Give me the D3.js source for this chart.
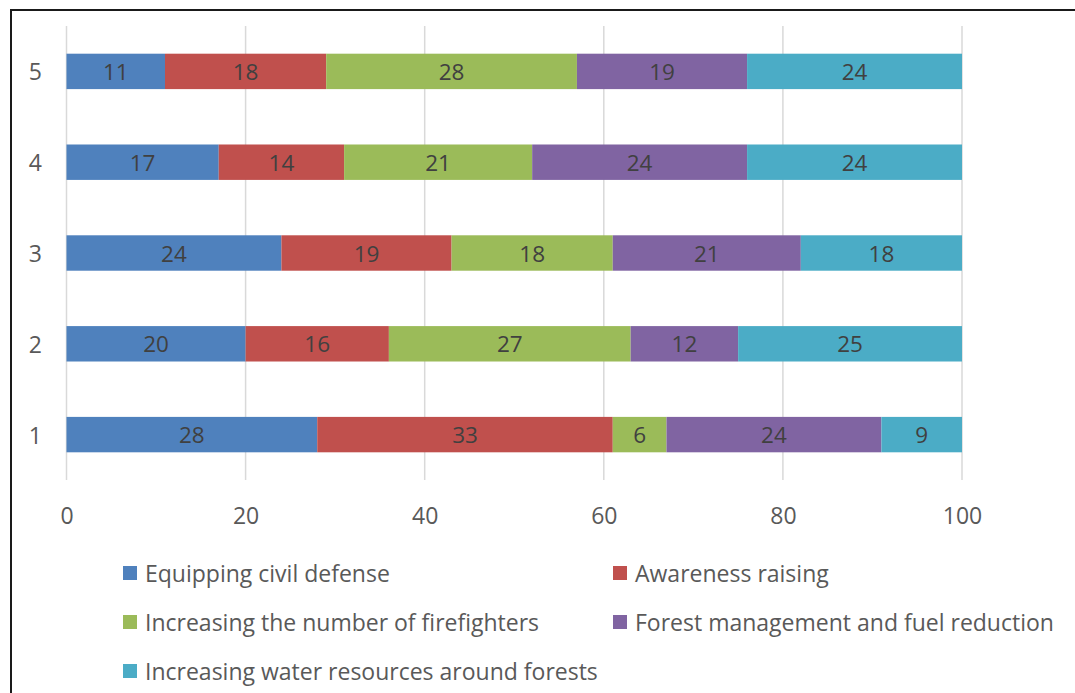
<!DOCTYPE html>
<html><head><meta charset="utf-8">
<script src="https://cdn.jsdelivr.net/npm/d3@7"></script>
<style>
html,body{margin:0;padding:0;background:#fff;}
svg{display:block;}
text{font-family:"Open Sans",sans-serif;}
</style></head>
<body>
<svg id="c" width="1075" height="693"></svg>
<script>
const categories = ["1","2","3","4","5"];
const seriesNames = ["Equipping civil defense","Awareness raising","Increasing the number of firefighters","Forest management and fuel reduction","Increasing water resources around forests"];
const seriesColors = ["#4F81BD","#C0504D","#9BBB59","#8064A2","#4BACC6"];
const equipping  = [28,20,24,17,11];
const awareness  = [33,16,19,14,18];
const firefighters = [6,27,18,21,28];
const forestMgmt = [24,12,21,24,19];
const water      = [9,25,18,24,24];
const xTicks = [0,20,40,60,80,100];

const seriesValues = [equipping, awareness, firefighters, forestMgmt, water];
const rows = categories.map((c,i)=>{
  const r = {cat:c};
  seriesNames.forEach((s,j)=>r[s]=seriesValues[j][i]);
  return r;
});
const stacked = d3.stack().keys(seriesNames)(rows);

const svg = d3.select("#c");
// frame
svg.append("rect").attr("x",11).attr("y",10).attr("width",1100).attr("height",720)
  .attr("fill","none").attr("stroke","#1a1a1a").attr("stroke-width",2);

const pLeft=66.5, pRight=962, pTop=26, pBottom=480;
const x = d3.scaleLinear().domain([0,100]).range([pLeft,pRight]);
const y = d3.scaleBand().domain(categories.slice().reverse()).range([pTop,pBottom]).paddingInner(0.61).paddingOuter(0.305);

// gridlines
svg.append("g").selectAll("line").data(xTicks).join("line")
  .attr("x1",d=>x(d)).attr("x2",d=>x(d)).attr("y1",pTop).attr("y2",pBottom)
  .attr("stroke","#D9D9D9").attr("stroke-width",1.5);

// bars
const g = svg.append("g");
stacked.forEach((s,j)=>{
  g.append("g").attr("fill",seriesColors[j]).selectAll("rect").data(s).join("rect")
    .attr("x",d=>x(d[0])).attr("width",d=>x(d[1])-x(d[0]))
    .attr("y",d=>y(d.data.cat)).attr("height",y.bandwidth());
});
stacked.forEach((s,j)=>{
  g.append("g").selectAll("text").data(s).join("text")
    .attr("x",d=>(x(d[0])+x(d[1]))/2).attr("y",d=>y(d.data.cat)+y.bandwidth()/2)
    .attr("text-anchor","middle").attr("dominant-baseline","central")
    .attr("font-size",22.5).attr("fill","#404040")
    .text(d=>d[1]-d[0]);
});

// x axis
const xAxis = d3.axisBottom(x).tickValues(xTicks).tickSize(0).tickPadding(0);
const xa = svg.append("g").attr("transform",`translate(0,${pBottom})`).call(xAxis);
xa.select(".domain").remove();
xa.selectAll("text").attr("y",35).attr("dy","0").attr("dominant-baseline","central")
  .attr("font-size",23).attr("fill","#595959").style("font-family","'Open Sans',sans-serif");

// y axis
const yAxis = d3.axisLeft(y).tickSize(0).tickPadding(0);
const ya = svg.append("g").attr("transform",`translate(${pLeft},0)`).call(yAxis);
ya.select(".domain").remove();
ya.selectAll("text").attr("x",-24.5).attr("dy","0").attr("dominant-baseline","central")
  .attr("font-size",23).attr("fill","#595959").style("font-family","'Open Sans',sans-serif");

// legend
const legendPos = [[123,573],[613,573],[123,622],[613,622],[123,671]];
const lg = svg.append("g").selectAll("g").data(seriesNames).join("g")
  .attr("transform",(d,i)=>`translate(${legendPos[i][0]},${legendPos[i][1]})`);
lg.append("rect").attr("x",0).attr("y",-7).attr("width",14).attr("height",14)
  .attr("fill",(d,i)=>seriesColors[i]);
lg.append("text").attr("x",22).attr("y",0).attr("dominant-baseline","central")
  .attr("font-size",23).attr("fill","#595959").text(d=>d);
</script>
</body></html>
